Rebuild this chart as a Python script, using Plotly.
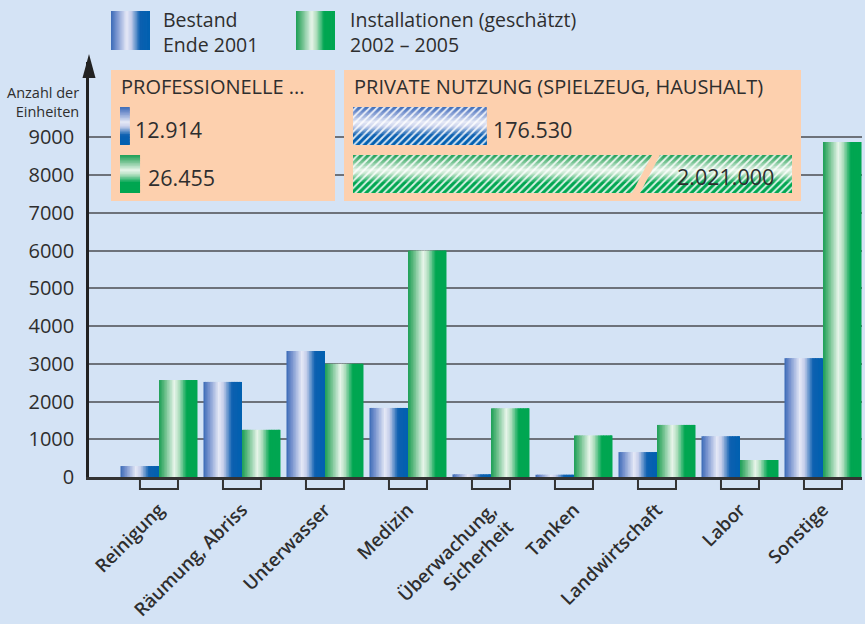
import plotly.graph_objects as go

# ---------------- data ----------------
categories = ["Reinigung", "Räumung, Abriss", "Unterwasser", "Medizin",
              "Überwachung,<br>Sicherheit", "Tanken", "Landwirtschaft", "Labor", "Sonstige"]
bestand_2001 = [290, 2520, 3340, 1830, 70, 60, 660, 1080, 3150]
install_2002_2005 = [2570, 1250, 3000, 6000, 1820, 1100, 1380, 450, 8880]
y_tick_values = [0, 1000, 2000, 3000, 4000, 5000, 6000, 7000, 8000, 9000]

series_names = ["Bestand<br>Ende 2001", "Installationen (geschätzt)<br>2002 – 2005"]
y_title = "Anzahl der<br>Einheiten"

prof_title = "PROFESSIONELLE ..."
prof_values = [12914, 26455]
prof_labels = ["12.914", "26.455"]

priv_title = "PRIVATE NUTZUNG (SPIELZEUG, HAUSHALT)"
priv_values = [176530, 2021000]
priv_labels = ["176.530", "2.021.000"]

# ---------------- style ----------------
W, H = 865, 624
PL, PR, PT, PB = 89, 862, 62, 477          # plot area in pixels
BG = "#d4e3f5"
PEACH = "#fdd0ae"
TXT = "#2e2e2e"
FONT = "Open Sans"

BLUE_STOPS = [(0.0, (58, 106, 183)), (0.14, (118, 146, 206)), (0.40, (230, 233, 247)),
              (0.52, (196, 205, 234)), (0.74, (12, 96, 176)), (1.0, (0, 96, 176))]
GREEN_STOPS = [(0.0, (26, 158, 84)), (0.14, (96, 186, 130)), (0.40, (232, 245, 235)),
               (0.52, (176, 222, 190)), (0.72, (0, 166, 81)), (1.0, (0, 166, 81))]
NSTRIP = 24


def grad(stops, t):
    for (t0, c0), (t1, c1) in zip(stops, stops[1:]):
        if t0 <= t <= t1:
            f = (t - t0) / (t1 - t0) if t1 > t0 else 0
            return "rgb(%d,%d,%d)" % tuple(round(a + (b - a) * f) for a, b in zip(c0, c1))
    return "rgb(%d,%d,%d)" % stops[-1][1]


def px(x):
    return (x - PL) / (PR - PL)


def py(y):
    return (PB - y) / (PB - PT)


fig = go.Figure()

# ---------------- main bars (gradient as vertical strips) ----------------
xs = list(range(len(categories)))
BW = 0.464
for vals, stops, base in [(bestand_2001, BLUE_STOPS, -BW), (install_2002_2005, GREEN_STOPS, 0.0)]:
    sw = BW / NSTRIP
    for k in range(NSTRIP):
        t = (k + 0.5) / NSTRIP
        fig.add_trace(go.Bar(
            x=xs, y=vals, offset=base + k * sw, width=min(sw * 1.7, BW - k * sw),
            marker=dict(color=grad(stops, t), line=dict(width=0)),
            showlegend=False, hoverinfo="skip", xaxis="x", yaxis="y"))

# ---------------- inset axes ----------------
S = 1320.0  # units per pixel for inset bars
ROW = 48.0  # pixels per row
BOX_T, BOX_B = 70, 201
ROW0 = 126
y_rng = [(BOX_B - ROW0) / ROW, (BOX_T - ROW0) / ROW]
IBW = 38 / ROW

boxes = [
    dict(ax="2", x0=111, x1=335, zero=120, vals=prof_values, labels=prof_labels, title=prof_title, hatch=False),
    dict(ax="3", x0=344, x1=801, zero=353, vals=priv_values, labels=priv_labels, title=priv_title, hatch=True),
]

layout_axes = {}
shapes = []
annotations = []

for b in boxes:
    a = b["ax"]
    xr = [-(b["zero"] - b["x0"]) * S, (b["x1"] - b["zero"]) * S]
    layout_axes["xaxis" + a] = dict(domain=[px(b["x0"]), px(b["x1"])], range=xr, anchor="y" + a,
                                    visible=False, fixedrange=True, automargin=False)
    layout_axes["yaxis" + a] = dict(domain=[py(BOX_B), py(BOX_T)], range=y_rng, anchor="x" + a,
                                    visible=False, fixedrange=True, automargin=False)
    shapes.append(dict(type="rect", xref="x" + a, yref="y" + a, x0=xr[0], x1=xr[1],
                       y0=y_rng[0], y1=y_rng[1], fillcolor=PEACH, line=dict(width=0), layer="below"))
    sw = IBW / NSTRIP
    for i, (v, stops) in enumerate(zip(b["vals"], [BLUE_STOPS, GREEN_STOPS])):
        for k in range(NSTRIP):
            t = (k + 0.5) / NSTRIP
            fig.add_trace(go.Bar(
                x=[v], y=[i], orientation="h", offset=-IBW / 2 + k * sw,
                width=min(sw * 1.7, IBW - k * sw),
                marker=dict(color=grad(stops, t), line=dict(width=0)),
                showlegend=False, hoverinfo="skip", xaxis="x" + a, yaxis="y" + a))
    if b["hatch"]:
        fig.add_trace(go.Bar(
            x=b["vals"], y=[0, 1], orientation="h", width=IBW,
            marker=dict(color="rgba(255,255,255,0.85)", line=dict(width=0),
                        pattern=dict(shape="/", size=5, solidity=0.38, fillmode="replace")),
            showlegend=False, hoverinfo="skip", xaxis="x" + a, yaxis="y" + a))
    annotations.append(dict(text=b["title"], xref="paper", yref="paper", x=px(b["zero"] - 1), y=py(87),
                            xanchor="left", yanchor="middle", showarrow=False,
                            font=dict(family=FONT, size=20, color=TXT)))

# value labels of the insets
for i in range(2):
    annotations.append(dict(text=prof_labels[i], xref="x2", yref="y2", x=prof_values[i], y=i + 0.08,
                            xanchor="left", yanchor="middle", xshift=3 + 3 * i, showarrow=False,
                            font=dict(family=FONT, size=21.5, color=TXT)))
annotations.append(dict(text=priv_labels[0], xref="x3", yref="y3", x=priv_values[0], y=0.08,
                        xanchor="left", yanchor="middle", xshift=4, showarrow=False,
                        font=dict(family=FONT, size=21.5, color=TXT)))
annotations.append(dict(text=priv_labels[1], xref="paper", yref="paper", x=px(776), y=py(176),
                        xanchor="right", yanchor="middle", showarrow=False,
                        font=dict(family=FONT, size=21.5, color=TXT)))

# break of the long private bar + right margin cover
shapes.append(dict(type="path", xref="paper", yref="paper", layer="above",
                   path="M %f %f L %f %f L %f %f L %f %f Z" % (px(652.5), py(154), px(660.5), py(154),
                                                            px(639.5), py(194), px(631.5), py(194)),
                   fillcolor=PEACH, line=dict(width=0)))
shapes.append(dict(type="rect", xref="paper", yref="paper", layer="above",
                   x0=px(792), x1=px(801), y0=py(154), y1=py(194), fillcolor=PEACH, line=dict(width=0)))

# brackets under each category
for i in xs:
    shapes.append(dict(type="path", xref="x", yref="paper", layer="above",
                       path="M %f 0 L %f %f L %f %f L %f 0" % (i - 0.229, i - 0.229, -12 / 415,
                                                             i + 0.229, -12 / 415, i + 0.229),
                       line=dict(color="#333333", width=2)))

# arrow head of y axis
shapes.append(dict(type="path", xref="paper", yref="paper", layer="above",
                   path="M %f %f L %f %f L %f %f Z" % (px(89), py(54), px(82.5), py(78), px(95.5), py(78)),
                   fillcolor="#222222", line=dict(width=0)))

# legend swatches
for (x0, stops) in [(111, BLUE_STOPS), (296, GREEN_STOPS)]:
    n = 30
    for k in range(n):
        t = (k + 0.5) / n
        shapes.append(dict(type="rect", xref="paper", yref="paper", layer="above",
                           x0=px(x0 + 39 * k / n), x1=px(x0 + 39 * (k + 1.6) / n if k < n - 1 else x0 + 39),
                           y0=py(50), y1=py(11), fillcolor=grad(stops, t), line=dict(width=0)))
for name, x0 in zip(series_names, [161, 348]):
    annotations.append(dict(text=name, xref="paper", yref="paper", x=px(x0), y=py(31.5),
                            xanchor="left", yanchor="middle", align="left", showarrow=False,
                            font=dict(family=FONT, size=19.5, color=TXT)))

# y-axis title
annotations.append(dict(text=y_title, xref="paper", yref="paper", x=px(81), y=py(102),
                        xanchor="right", yanchor="middle", align="right", showarrow=False,
                        font=dict(family=FONT, size=14.5, color=TXT)))

fig.update_layout(
    width=W, height=H, autosize=False,
    margin=dict(l=PL, r=W - PR, t=PT, b=H - PB, pad=0),
    paper_bgcolor=BG, plot_bgcolor=BG,
    barmode="overlay", showlegend=False,
    font=dict(family=FONT, color=TXT),
    xaxis=dict(range=[-0.843, 8.470], tickvals=xs, ticktext=categories, tickangle=-45,
               ticks="", showline=True, linecolor="#333333", linewidth=2.5, showgrid=False,
               zeroline=False, ticklabelstandoff=12, automargin=False,
               tickfont=dict(family=FONT, size=18.5, color=TXT, weight=600), fixedrange=True),
    yaxis=dict(range=[0, 11000], tickvals=y_tick_values, ticks="", showgrid=True,
               gridcolor="#6d727a", gridwidth=2, zeroline=False, showline=True,
               linecolor="#222222", linewidth=2.5, ticklabelstandoff=8, automargin=False,
               tickfont=dict(family=FONT, size=20, color=TXT), fixedrange=True),
    shapes=shapes, annotations=annotations,
    **layout_axes,
)

fig.write_html("out.html", config={"displayModeBar": False},
               post_script="document.body.style.margin='0';document.body.style.overflow='hidden';")
